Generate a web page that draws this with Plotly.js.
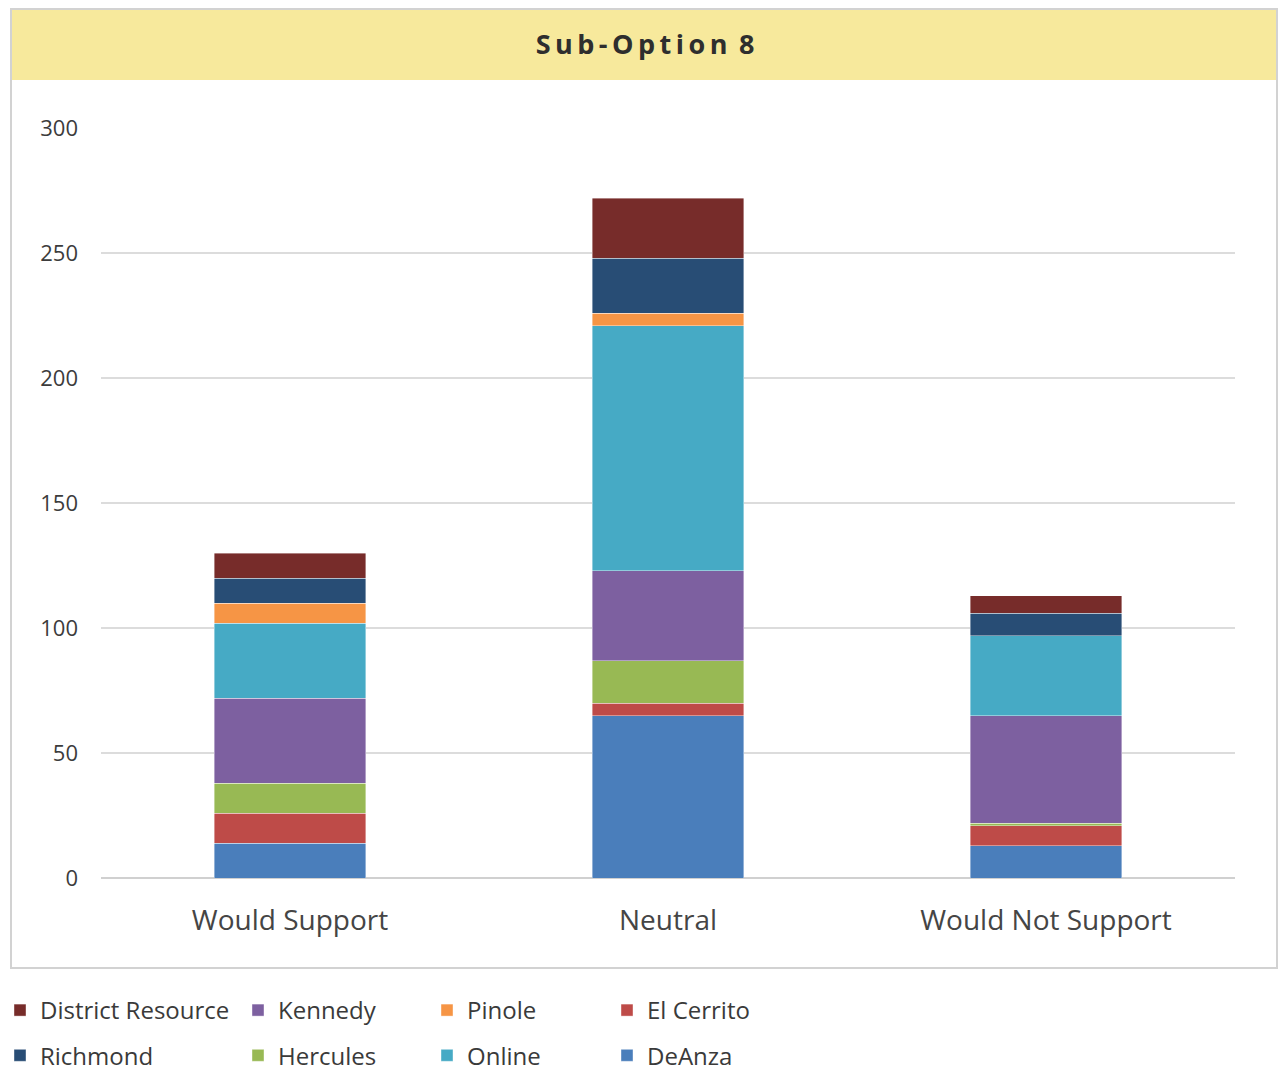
<!DOCTYPE html>
<html>
<head>
<meta charset="utf-8">
<script src="https://cdn.plot.ly/plotly-3.0.1.min.js"></script>
<style>html,body{margin:0;padding:0;background:#fff;}</style>
</head>
<body>
<div id="chart" style="width:1282px;height:1071px;"></div>
<script>
const categories = ["Would Support", "Neutral", "Would Not Support"];
const seriesNames = ["DeAnza", "El Cerrito", "Hercules", "Kennedy", "Online", "Pinole", "Richmond", "District Resource"];
const deAnza = [14, 65, 13];
const elCerrito = [12, 5, 8];
const hercules = [12, 17, 1];
const kennedy = [34, 36, 43];
const online = [30, 98, 32];
const pinole = [8, 5, 0];
const richmond = [10, 22, 9];
const districtResource = [10, 24, 7];
const yTicks = [0, 50, 100, 150, 200, 250, 300];

const seriesValues = [deAnza, elCerrito, hercules, kennedy, online, pinole, richmond, districtResource];
const colors = ["#4A7EBB", "#BE4B48", "#98B954", "#7D60A0", "#46AAC5", "#F69545", "#284D75", "#772C2A"];
const legendOf = ["legend4", "legend4", "legend2", "legend2", "legend3", "legend3", "legend", "legend"];

const FONT = "Open Sans, Noto Sans, sans-serif";
const traces = seriesNames.map((name, i) => ({
  type: "bar",
  name: name,
  x: categories,
  y: seriesValues[i],
  legend: legendOf[i],
  legendgroup: name,
  legendrank: 1000 - i,
  marker: { color: colors[i], line: { color: "rgba(255,255,255,0.5)", width: 0.8 } },
  hoverinfo: "x+y+name"
}));

const W = 1282, H = 1071;
const mL = 101, mR = 47, mT = 128, mB = 193;
const pw = W - mL - mR, ph = H - mT - mB;
const px = x => (x - mL) / pw;
const py = y => (H - mB - y) / ph;

function legendAt(xPix) {
  return {
    xref: "container", yref: "container",
    x: xPix / W, y: 1 - 988 / H, xanchor: "left", yanchor: "top",
    orientation: "v", traceorder: "grouped", tracegroupgap: 11,
    font: { family: FONT, size: 24, color: "#3a3a3a" },
    bgcolor: "rgba(0,0,0,0)", itemclick: false, itemdoubleclick: false
  };
}

const layout = {
  width: W, height: H,
  margin: { l: mL, r: mR, t: mT, b: mB, autoexpand: false },
  paper_bgcolor: "#ffffff",
  plot_bgcolor: "rgba(0,0,0,0)",
  barmode: "stack",
  bargap: 0.6,
  title: {
    text: "<b>S\u2009u\u2009b\u2009-\u2009O\u2009p\u2009t\u2009i\u2009o\u2009n\u2009 8</b>",
    font: { family: FONT, size: 27, color: "#2e2e2e" },
    x: 645 / W, xanchor: "center", y: 1 - 45 / H, yanchor: "middle", xref: "container", yref: "container"
  },
  xaxis: {
    tickfont: { family: FONT, size: 28, color: "#454545" },
    ticklabelstandoff: 23,
    showline: false, zeroline: false, showgrid: false, fixedrange: true
  },
  yaxis: {
    range: [0, 300],
    tickvals: yTicks,
    ticktext: yTicks.map(String),
    tickfont: { family: FONT, size: 22, color: "#3c3c3c" },
    ticklabelstandoff: 22,
    showgrid: true, gridcolor: "#dcdcdc", gridwidth: 1.5,
    zeroline: true, zerolinecolor: "#d0d0d0", zerolinewidth: 1.5,
    showline: false, fixedrange: true
  },
  showlegend: true,
  legend: legendAt(0),
  legend2: legendAt(238),
  legend3: legendAt(427),
  legend4: legendAt(607),
  shapes: [
    { type: "rect", xref: "paper", yref: "paper", x0: px(11), x1: px(1277), y0: py(9), y1: py(968),
      line: { color: "#d2d2d2", width: 2 }, fillcolor: "rgba(0,0,0,0)", layer: "below" },
    { type: "rect", xref: "paper", yref: "paper", x0: px(12), x1: px(1276), y0: py(10), y1: py(80),
      line: { width: 0 }, fillcolor: "#F7E99C", layer: "below" }
  ]
};

Plotly.newPlot("chart", traces, layout, { displayModeBar: false, staticPlot: true });
</script>
</body>
</html>
